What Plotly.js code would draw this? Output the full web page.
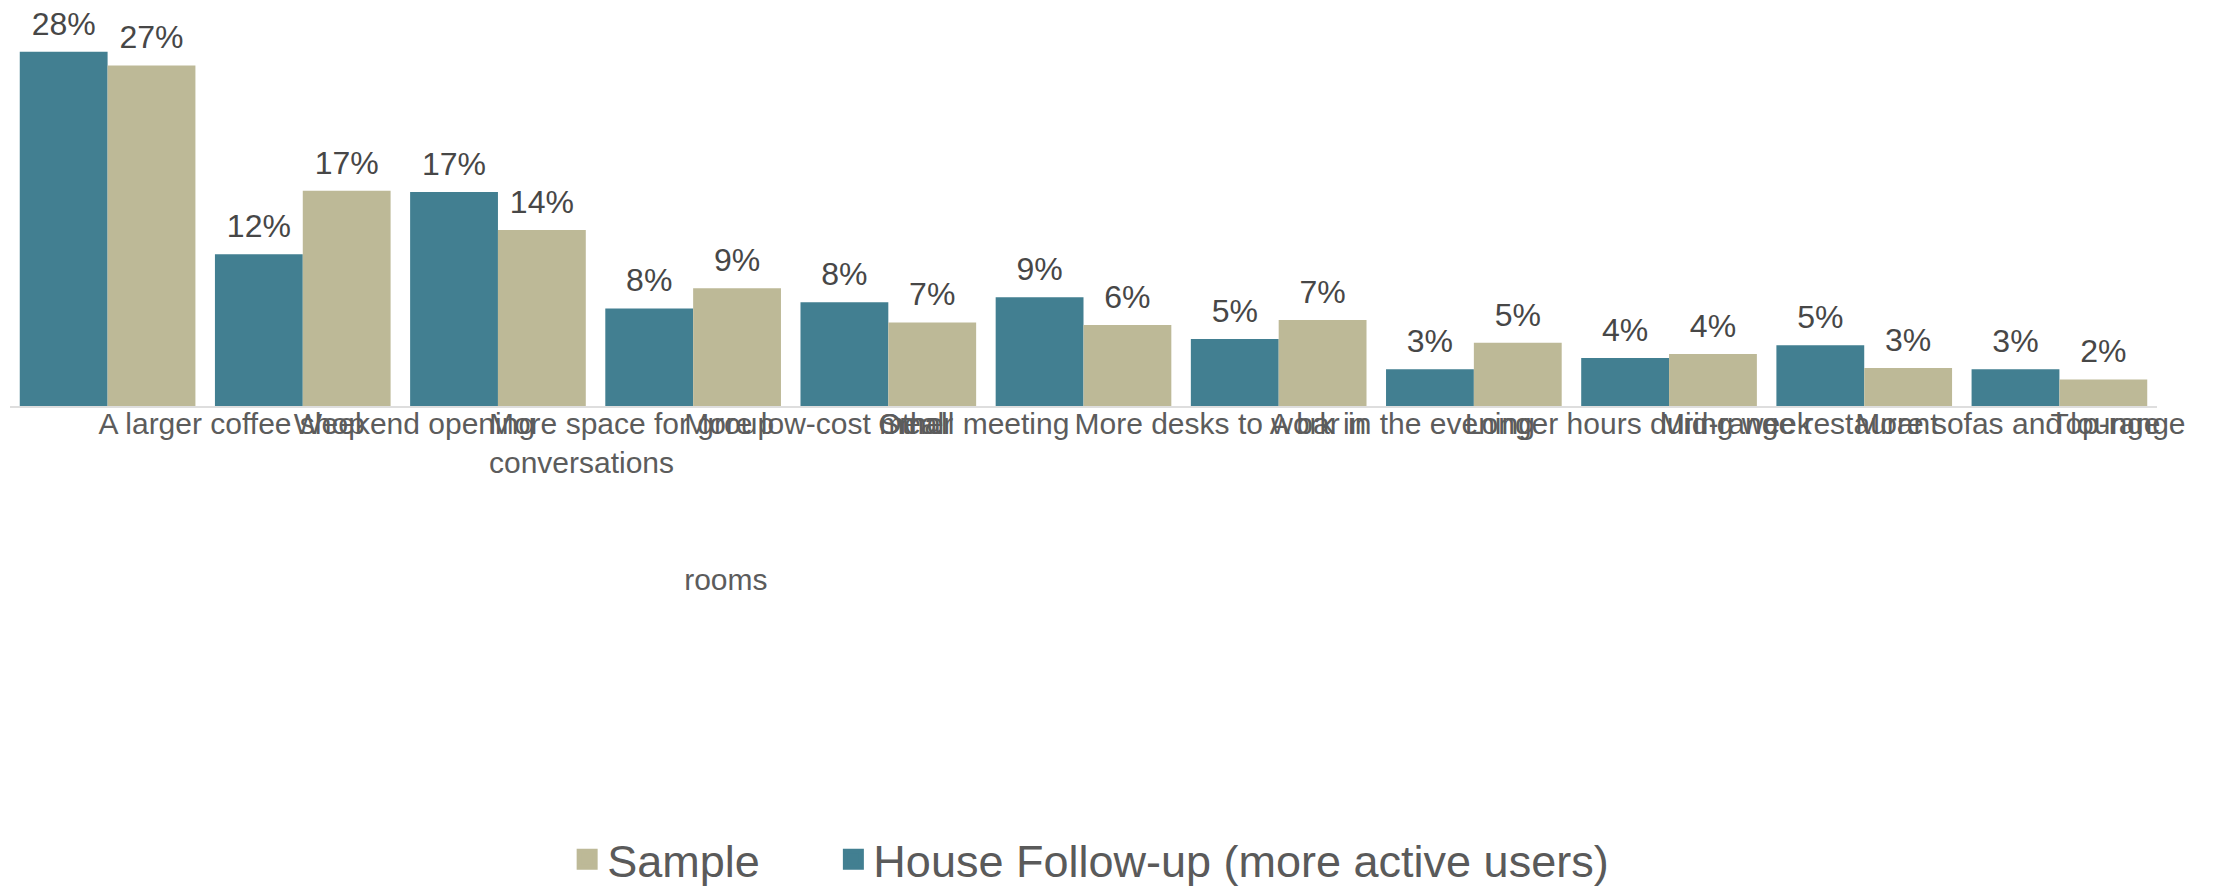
<!DOCTYPE html>
<html>
<head>
<meta charset="utf-8">
<script src="https://cdn.plot.ly/plotly-3.0.1.min.js"></script>
<style>html,body{margin:0;padding:0;background:#fff;}#chart{width:2218px;height:886px;}</style>
</head>
<body>
<div id="chart"></div>
<script>
const categories = [
  "A larger coffee shop",
  "Weekend opening",
  "More space for group<br>conversations",
  "More low-cost meal<br><br><br><br>rooms",
  "Small meeting",
  "More desks to work in",
  "A bar in the evening",
  "Longer hours during week",
  "Mid-range restaurant",
  "More sofas and lounge",
  "Top-range"
];
// a second label drawn at the same tick as "Small meeting" in the original
const extraTickAt = ["Small meeting"];
const extraTickText = ["Other"];

const followUpName = "House Follow-up (more active users)";
const sampleName = "Sample";
const followUp = [28.0, 12.0, 16.9, 7.7, 8.2, 8.6, 5.3, 2.9, 3.8, 4.8, 2.9];
const sample   = [26.9, 17.0, 13.9, 9.3, 6.6, 6.4, 6.8, 5.0, 4.1, 3.0, 2.1];

const BLUE = "#427f91";
const BEIGE = "#bdb997";
const FONT = "Liberation Sans, Arial, sans-serif";

const labelTrace = (vals, grp) => ({
  type: "scatter", mode: "markers+text", x: categories, y: vals, offsetgroup: grp,
  marker: {size: 13, color: "rgba(0,0,0,0)"}, texttemplate: "%{y:.0f}%", textposition: "top center",
  textfont: {family: FONT, size: 32, color: "#474747"}, showlegend: false, hoverinfo: "skip", cliponaxis: false
});

const traces = [
  {type: "bar", x: categories, y: followUp, name: followUpName, offsetgroup: "a",
   marker: {color: BLUE}, showlegend: false, hoverinfo: "skip"},
  {type: "bar", x: categories, y: sample, name: sampleName, offsetgroup: "b",
   marker: {color: BEIGE}, showlegend: false, hoverinfo: "skip"},
  labelTrace(followUp, "a"),
  labelTrace(sample, "b"),
  {type: "scatter", mode: "markers", x: [null], y: [null], xaxis: "x2", name: sampleName, legend: "legend",
   marker: {symbol: "square", size: 16, color: BEIGE, line: {color: BEIGE, width: 9}}, hoverinfo: "skip"},
  {type: "scatter", mode: "markers", x: [null], y: [null], xaxis: "x2", name: followUpName, legend: "legend2",
   marker: {symbol: "square", size: 16, color: BLUE, line: {color: BLUE, width: 9}}, hoverinfo: "skip"}
];

const legendBase = {
  orientation: "h", xanchor: "left", yref: "container", y: 0.03, yanchor: "middle",
  font: {family: FONT, size: 45, color: "#5a5a5a"}, itemwidth: 30, bgcolor: "rgba(0,0,0,0)"
};

const tickStyle = {
  ticks: "", ticklabelposition: "outside right", ticklabelshift: -10, ticklabelstandoff: -10,
  tickangle: 0, tickfont: {family: FONT, size: 30, color: "#5c5c5c"}, fixedrange: true
};

const layout = {
  width: 2218, height: 886,
  margin: {l: 10, r: 61, t: 20, b: 480},
  paper_bgcolor: "#fff", plot_bgcolor: "#fff",
  barmode: "group", bargap: 0.1, bargroupgap: 0,
  scattermode: "group", scattergap: 0.1,
  font: {family: FONT, color: "#5a5a5a"},
  xaxis: Object.assign({
    type: "category", showgrid: false, zeroline: false,
    showline: true, linecolor: "#dedede", linewidth: 2,
    categoryorder: "array", categoryarray: categories
  }, tickStyle),
  xaxis2: Object.assign({
    type: "category", overlaying: "x", matches: "x", side: "bottom", anchor: "y",
    showgrid: false, zeroline: false, showline: false,
    categoryorder: "array", categoryarray: categories,
    tickmode: "array", tickvals: extraTickAt, ticktext: extraTickText
  }, tickStyle, {ticklabelstandoff: -3}),
  yaxis: {visible: false, range: [0, 30.5], fixedrange: true},
  legend: Object.assign({}, legendBase, {x: 0.2595}),
  legend2: Object.assign({}, legendBase, {x: 0.3835}),
  showlegend: true
};

Plotly.newPlot("chart", traces, layout, {displayModeBar: false, staticPlot: true});
</script>
</body>
</html>
